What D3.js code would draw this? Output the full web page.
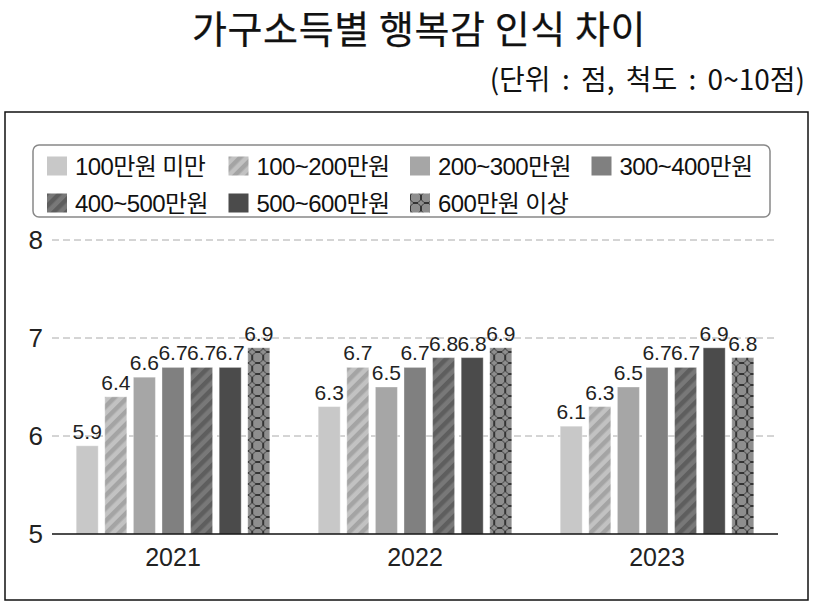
<!DOCTYPE html>
<html>
<head>
<meta charset="utf-8">
<script src="https://cdn.jsdelivr.net/npm/d3@7"></script>
<style>
  body { margin: 0; background: #fff; }
  text { font-family: "Liberation Sans", "Noto Sans CJK KR", sans-serif; }
  .kr { font-family: "Noto Sans CJK KR", sans-serif; }
</style>
</head>
<body>
<div id="chart"></div>
<script>
// data
var years = ["2021", "2022", "2023"];
var incomeGroups = ["100만원 미만", "100~200만원", "200~300만원", "300~400만원",
                    "400~500만원", "500~600만원", "600만원 이상"];
var v2021 = [5.9, 6.4, 6.6, 6.7, 6.7, 6.7, 6.9];
var v2022 = [6.3, 6.7, 6.5, 6.7, 6.8, 6.8, 6.9];
var v2023 = [6.1, 6.3, 6.5, 6.7, 6.7, 6.9, 6.8];
var yTicks = [5, 6, 7, 8];

var valuesByYear = [v2021, v2022, v2023];

var svgWidth = 817;
var svgHeight = 604;

var svg = d3.select("#chart")
  .append("svg")
  .attr("width", svgWidth)
  .attr("height", svgHeight);

// patterns
var defs = svg.append("defs");

function stripes(id, base, line) {
  var p = defs.append("pattern")
    .attr("id", id)
    .attr("patternUnits", "userSpaceOnUse")
    .attr("width", 9).attr("height", 9)
    .attr("patternTransform", "rotate(45)");
  p.append("rect").attr("width", 9).attr("height", 9).attr("fill", base);
  p.append("rect").attr("width", 4.5).attr("height", 9).attr("fill", line);
}
stripes("stripeLight", "#c2c2c2", "#a4a4a4");
stripes("stripeDark", "#787878", "#5e5e5e");

var oct = defs.append("pattern")
  .attr("id", "octagon")
  .attr("patternUnits", "userSpaceOnUse")
  .attr("width", 11).attr("height", 11);
oct.append("rect").attr("width", 11).attr("height", 11).attr("fill", "#8e8e8e");
oct.append("path")
  .attr("d", "M3,0.5 L8,0.5 L10.5,3 L10.5,8 L8,10.5 L3,10.5 L0.5,8 L0.5,3 Z")
  .attr("fill", "none")
  .attr("stroke", "#2a2a2a")
  .attr("stroke-width", 0.9);

var fills = ["#c8c8c8", "url(#stripeLight)", "#a6a6a6", "#808080",
             "url(#stripeDark)", "#4b4b4b", "url(#octagon)"];

// title
svg.append("text")
  .attr("class", "kr")
  .attr("x", 419)
  .attr("y", 43)
  .attr("text-anchor", "middle")
  .attr("font-size", "38px")
  .attr("font-weight", 400)
  .attr("letter-spacing", "0.6px")
  .attr("fill", "#111")
  .attr("stroke", "#111")
  .attr("stroke-width", 0.25)
  .text("가구소득별 행복감 인식 차이");

svg.append("text")
  .attr("class", "kr")
  .attr("x", 805)
  .attr("y", 90)
  .attr("text-anchor", "end")
  .attr("font-size", "28px")
  .attr("word-spacing", "5px")
  .attr("fill", "#111")
  .text("(단위 : 점, 척도 : 0~10점)");

// outer frame
svg.append("rect")
  .attr("x", 5).attr("y", 112)
  .attr("width", 803).attr("height", 488)
  .attr("fill", "none")
  .attr("stroke", "#111")
  .attr("stroke-width", 1.5);

// scales
var x0 = d3.scaleBand()
  .domain(years)
  .range([52, 778])
  .paddingInner(0.2)
  .paddingOuter(0.1);

var x1 = d3.scaleBand()
  .domain(incomeGroups)
  .range([0, x0.bandwidth()])
  .paddingInner(0.23);

var y = d3.scaleLinear()
  .domain([5, 8])
  .range([534, 240]);

// gridlines
svg.append("g")
  .selectAll("line")
  .data(yTicks.filter(function(t) { return t > 5; }))
  .enter()
  .append("line")
  .attr("x1", 52).attr("x2", 778)
  .attr("y1", function(d) { return y(d); })
  .attr("y2", function(d) { return y(d); })
  .attr("stroke", "#aaa")
  .attr("stroke-width", 1)
  .attr("stroke-dasharray", "7,4");

// y tick labels
svg.append("g")
  .selectAll("text")
  .data(yTicks)
  .enter()
  .append("text")
  .attr("x", 43)
  .attr("y", function(d) { return y(d); })
  .attr("dy", "0.36em")
  .attr("text-anchor", "end")
  .attr("font-size", "26px")
  .attr("fill", "#222")
  .text(function(d) { return d; });

// bars
var yearGroups = svg.append("g")
  .selectAll("g")
  .data(years)
  .enter()
  .append("g")
  .attr("transform", function(d) { return "translate(" + x0(d) + ",0)"; });

yearGroups.selectAll("rect")
  .data(function(d, i) {
    return valuesByYear[i].map(function(v, j) { return { group: incomeGroups[j], value: v, idx: j }; });
  })
  .enter()
  .append("rect")
  .attr("x", function(d) { return x1(d.group); })
  .attr("y", function(d) { return y(d.value); })
  .attr("width", x1.bandwidth())
  .attr("height", function(d) { return y(5) - y(d.value); })
  .attr("fill", function(d) { return fills[d.idx]; })
  .attr("stroke", "#fff")
  .attr("stroke-opacity", 0.35)
  .attr("stroke-width", 1);

yearGroups.selectAll("text")
  .data(function(d, i) {
    return valuesByYear[i].map(function(v, j) { return { group: incomeGroups[j], value: v }; });
  })
  .enter()
  .append("text")
  .attr("x", function(d) { return x1(d.group) + x1.bandwidth() / 2; })
  .attr("y", function(d) { return y(d.value) - 7; })
  .attr("text-anchor", "middle")
  .attr("font-size", "21px")
  .attr("fill", "#222")
  .text(function(d) { return d.value.toFixed(1); });

// x axis line + year labels
svg.append("line")
  .attr("x1", 52).attr("x2", 778)
  .attr("y1", y(5)).attr("y2", y(5))
  .attr("stroke", "#111")
  .attr("stroke-width", 1.5);

svg.append("g")
  .selectAll("text")
  .data(years)
  .enter()
  .append("text")
  .attr("x", function(d) { return x0(d) + x0.bandwidth() / 2; })
  .attr("y", 566)
  .attr("text-anchor", "middle")
  .attr("font-size", "25px")
  .attr("fill", "#222")
  .text(function(d) { return d; });

// legend
svg.append("rect")
  .attr("x", 33).attr("y", 145)
  .attr("width", 737).attr("height", 72)
  .attr("rx", 6)
  .attr("fill", "#fff")
  .attr("stroke", "#888")
  .attr("stroke-width", 1.5);

var legend = svg.append("g")
  .selectAll("g")
  .data(incomeGroups)
  .enter()
  .append("g")
  .attr("transform", function(d, i) {
    return "translate(" + (47 + (i % 4) * 181.5) + "," + (i < 4 ? 166 : 203) + ")";
  });

legend.append("rect")
  .attr("x", 0).attr("y", -9.5)
  .attr("width", 20).attr("height", 19)
  .attr("fill", function(d, i) { return fills[i]; });

legend.append("text")
  .attr("x", 28)
  .attr("dy", "0.36em")
  .attr("font-size", "24px")
  .attr("letter-spacing", "-0.6px")
  .attr("fill", "#111")
  .text(function(d) { return d; });
</script>
</body>
</html>
